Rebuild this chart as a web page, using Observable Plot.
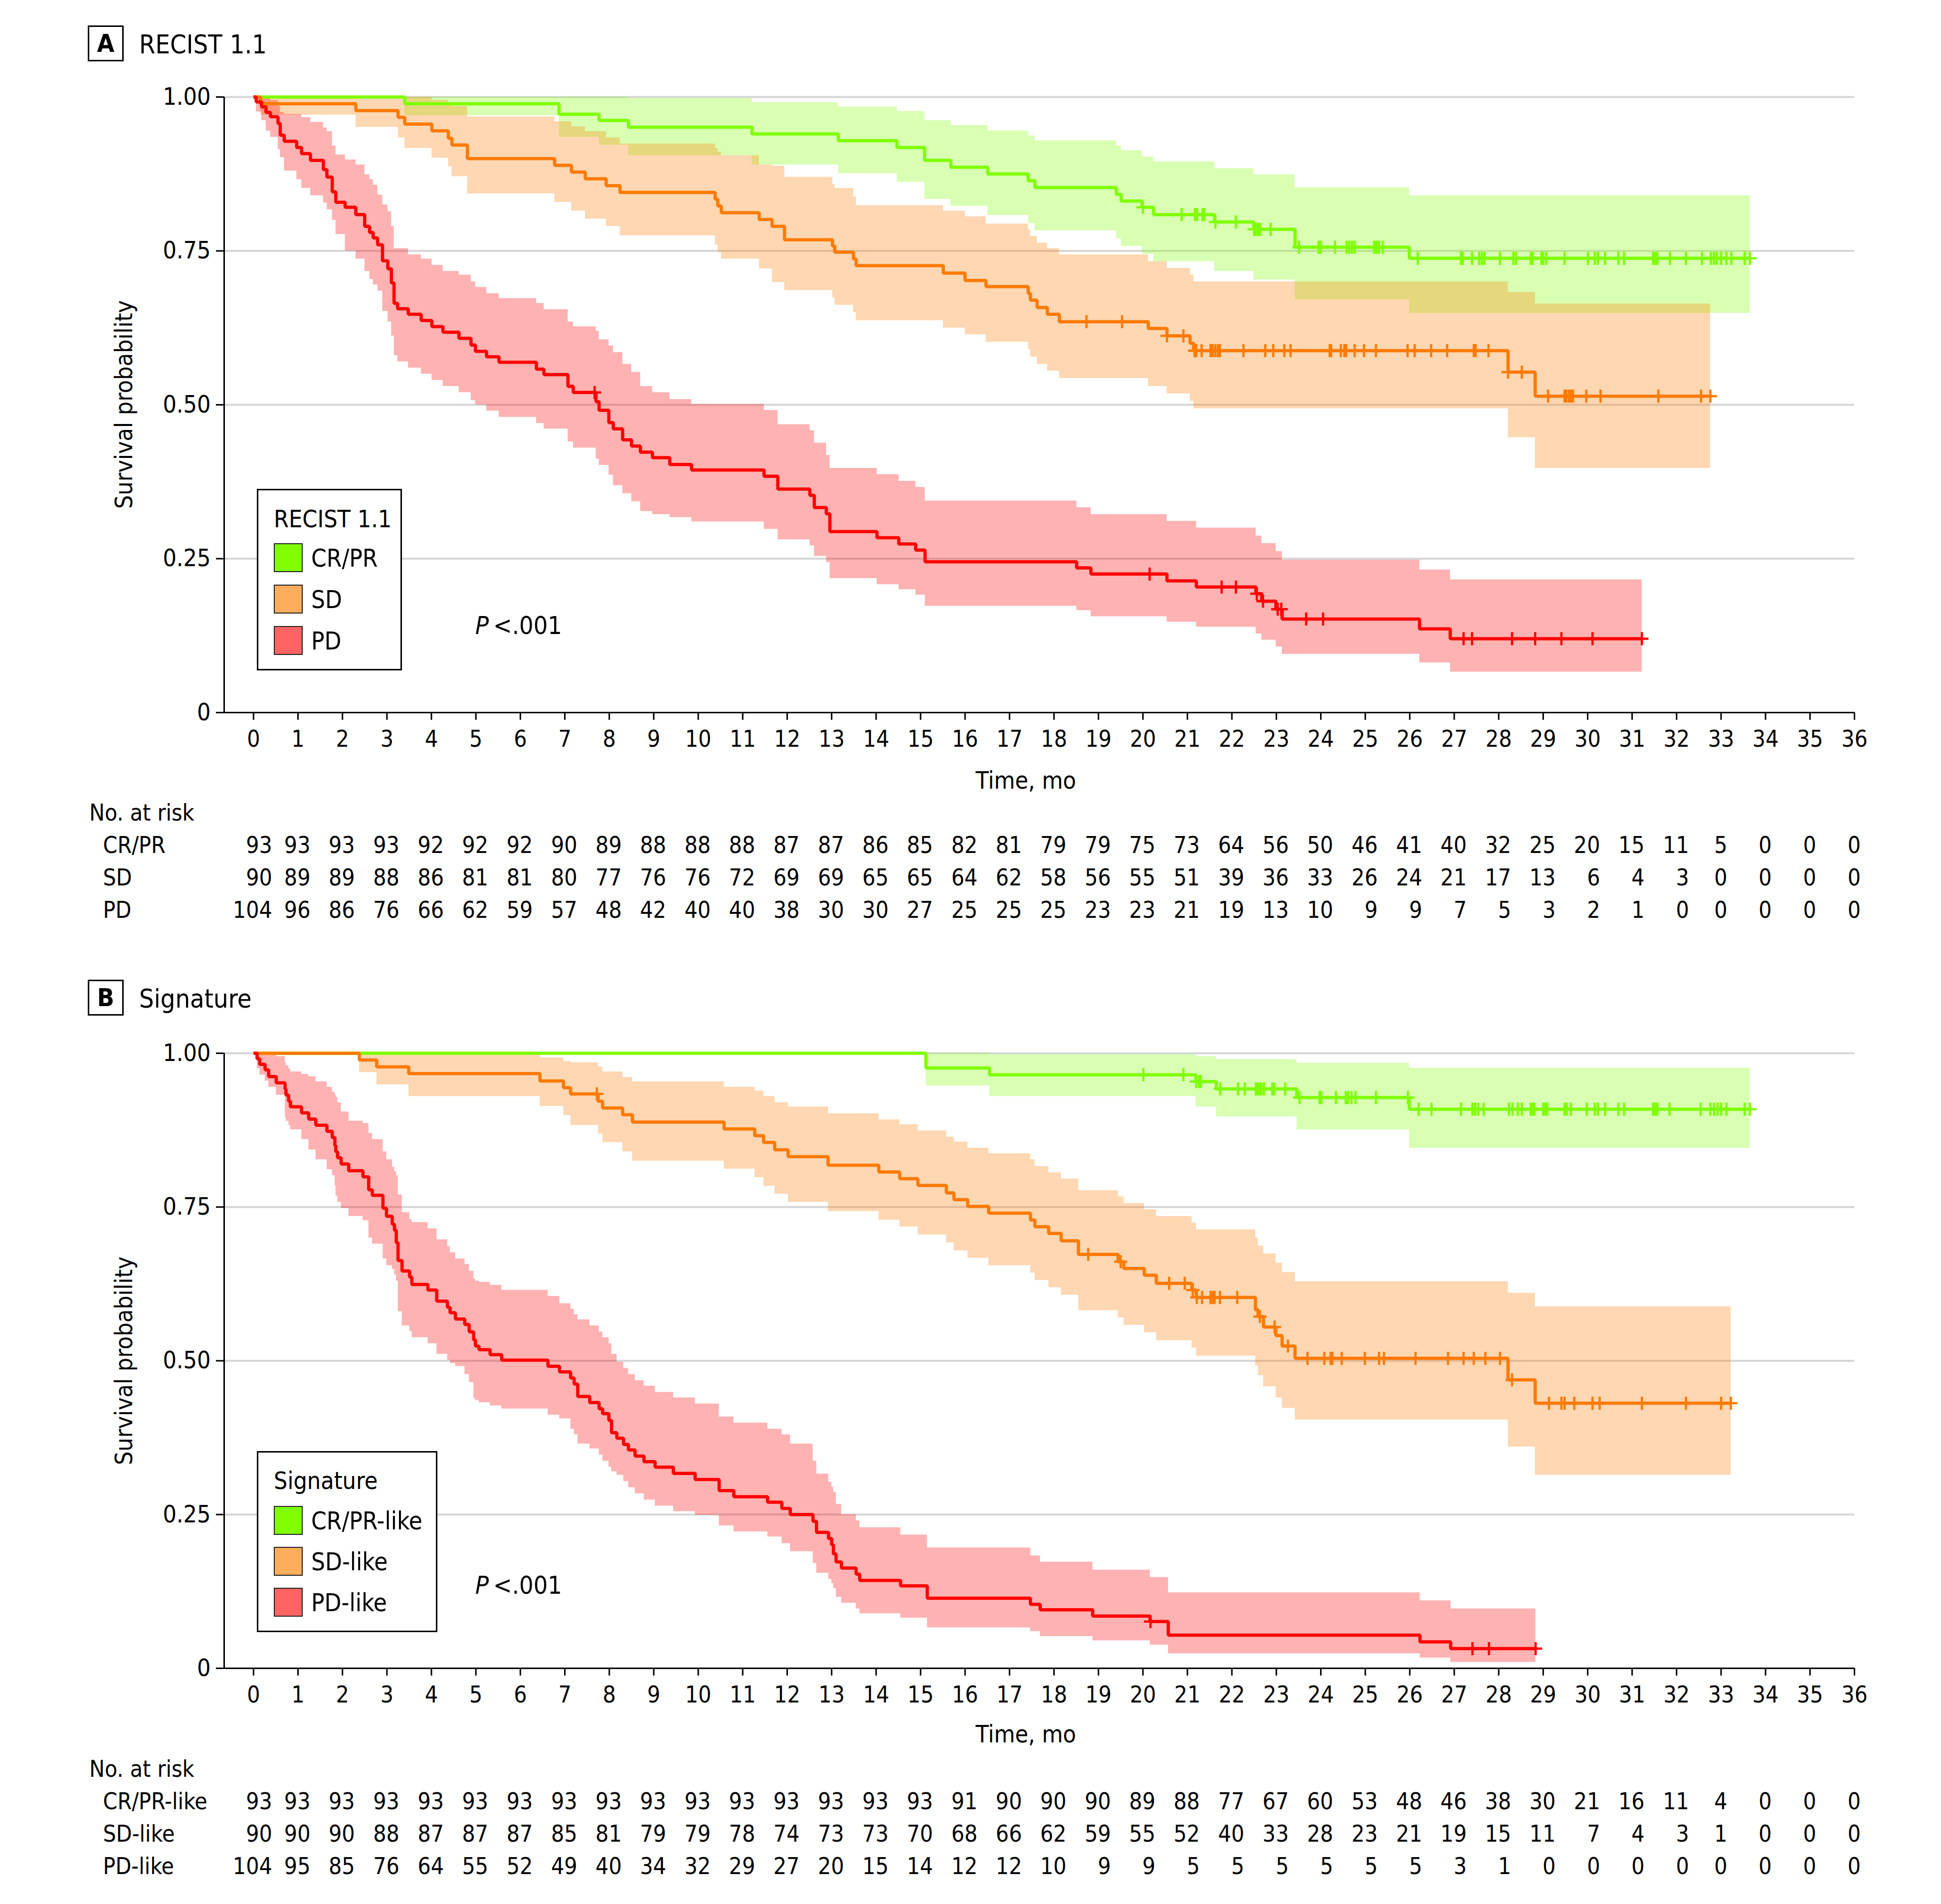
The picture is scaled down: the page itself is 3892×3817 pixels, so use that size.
<!DOCTYPE html>
<html>
<head>
<meta charset="utf-8">
<script src="https://cdn.jsdelivr.net/npm/d3@7"></script>
<script src="https://cdn.jsdelivr.net/npm/@observablehq/plot@0.6"></script>
<style>
  html,body{margin:0;padding:0;background:#fff;}
  #page{position:relative;width:3892px;height:3817px;overflow:hidden;background:#fff;
    font-family:"DejaVu Sans Condensed","DejaVu Sans",sans-serif;font-stretch:condensed;color:#000;}
  .t{position:absolute;white-space:nowrap;line-height:1;}
  .box{position:absolute;box-sizing:border-box;border:3px solid #000;background:#fff;}
  .sw{position:absolute;box-sizing:border-box;border:2.5px solid #222;}
  .svgwrap{position:absolute;left:0;}
</style>
</head>
<body>
<div id="page"></div>
<script>
// ---------------- DATA ----------------
const xTicks = [0,1,2,3,4,5,6,7,8,9,10,11,12,13,14,15,16,17,18,19,20,21,22,23,24,25,26,27,28,29,30,31,32,33,34,35,36];
const yTicks = [0, 0.25, 0.5, 0.75, 1];
const X_DOMAIN = [-0.66, 36];

const groupsA = ["CR/PR", "SD", "PD"];
const groupsB = ["CR/PR-like", "SD-like", "PD-like"];
const lineColors = ["#7FFF00", "#FF7A00", "#FF0000"];
const swatchColors = ["#80FF00", "#FDAD5B", "#FF6464"];

// Kaplan-Meier steps: [month, survival, lower CI, upper CI]
const kmA_CRPR = [
[0,1,1,1],[3.40,0.989,0.970,1],[6.87,0.972,0.935,1],[7.77,0.962,0.922,1],[8.43,0.951,0.905,0.998],
[11.21,0.940,0.890,0.991],[13.15,0.929,0.876,0.984],[14.47,0.918,0.862,0.977],[15.09,0.897,0.834,0.962],
[15.68,0.886,0.823,0.954],[16.51,0.875,0.808,0.945],[17.42,0.864,0.795,0.937],[17.57,0.853,0.783,0.929],
[19.40,0.842,0.770,0.921],[19.51,0.831,0.758,0.913],[19.98,0.821,0.745,0.903],[20.24,0.809,0.733,0.895],
[21.61,0.797,0.717,0.884],[22.49,0.785,0.703,0.874],[23.42,0.756,0.671,0.853],[25.99,0.738,0.649,0.840]];
const endA_CRPR = 33.65;
const censA_CRPR = [20.00,20.87,21.17,21.22,21.34,21.38,21.63,22.09,22.50,22.54,22.59,22.64,22.87,23.51,23.95,24.00,24.32,
24.58,24.64,24.70,24.76,25.20,25.25,25.31,25.39,26.18,27.15,27.19,27.40,27.56,27.62,27.68,28.03,28.33,28.39,28.72,28.76,
28.96,29.00,29.07,29.48,30.01,30.16,30.23,30.39,30.69,30.82,31.47,31.52,31.57,31.85,32.21,32.57,32.77,32.84,32.90,33.00,
33.12,33.23,33.53,33.65];

const kmA_SD = [
[0,1,1,1],[0.16,0.989,0.971,1],[2.30,0.978,0.951,1],[3.25,0.967,0.934,1],[3.40,0.956,0.917,1],
[4.01,0.945,0.901,0.995],[4.38,0.933,0.887,0.990],[4.46,0.922,0.871,0.985],[4.81,0.900,0.843,0.968],
[6.77,0.889,0.829,0.960],[7.15,0.878,0.815,0.952],[7.46,0.867,0.802,0.944],[7.93,0.856,0.790,0.934],
[8.24,0.845,0.775,0.924],[10.38,0.834,0.760,0.917],[10.44,0.823,0.748,0.911],[10.52,0.812,0.737,0.905],
[11.37,0.801,0.721,0.890],[11.66,0.790,0.699,0.888],[11.94,0.768,0.686,0.870],[13.02,0.758,0.674,0.858],
[13.07,0.748,0.662,0.852],[13.49,0.737,0.650,0.838],[13.55,0.726,0.637,0.824],[15.51,0.714,0.625,0.815],
[16.00,0.702,0.614,0.806],[16.47,0.692,0.602,0.794],[17.42,0.681,0.590,0.784],[17.47,0.670,0.578,0.774],
[17.62,0.658,0.566,0.763],[17.85,0.647,0.555,0.754],[18.12,0.635,0.543,0.744],[20.12,0.624,0.530,0.733],
[20.54,0.612,0.518,0.722],[21.06,0.600,0.506,0.711],[21.14,0.588,0.494,0.700],[28.21,0.553,0.447,0.683],
[28.82,0.514,0.397,0.664]];
const endA_SD = 32.76;
const censA_SD = [18.73,19.53,20.54,20.91,21.16,21.20,21.32,21.52,21.57,21.63,21.69,21.73,22.26,22.75,22.93,23.18,23.32,
24.20,24.23,24.45,24.53,24.57,24.76,24.97,25.24,25.95,26.11,26.48,26.84,27.44,27.48,27.77,28.21,28.52,29.11,29.48,29.52,
29.58,29.62,29.67,29.97,30.29,31.59,32.55,32.76];

const kmA_PD = [
[0,1,1,1],[0.06,0.992,0.976,1],[0.18,0.984,0.962,1],[0.28,0.975,0.945,1],[0.38,0.968,0.935,0.995],
[0.55,0.957,0.915,0.985],[0.60,0.938,0.902,0.975],[0.69,0.928,0.880,0.972],[0.97,0.918,0.866,0.972],
[1.08,0.908,0.852,0.967],[1.28,0.897,0.840,0.959],[1.57,0.882,0.828,0.950],[1.65,0.870,0.817,0.944],
[1.77,0.846,0.800,0.921],[1.85,0.829,0.777,0.906],[2.06,0.821,0.750,0.898],[2.30,0.809,0.737,0.890],
[2.50,0.790,0.717,0.874],[2.61,0.780,0.704,0.866],[2.69,0.771,0.695,0.857],[2.79,0.760,0.685,0.841],
[2.90,0.734,0.652,0.825],[3.02,0.721,0.635,0.814],[3.10,0.698,0.612,0.790],[3.16,0.665,0.580,0.754],
[3.24,0.656,0.570,0.754],[3.48,0.647,0.560,0.744],[3.77,0.637,0.550,0.737],[4.01,0.627,0.540,0.727],
[4.26,0.618,0.530,0.717],[4.62,0.608,0.520,0.711],[4.89,0.597,0.507,0.700],[4.99,0.587,0.500,0.691],
[5.24,0.578,0.490,0.681],[5.52,0.569,0.480,0.673],[6.36,0.558,0.470,0.665],[6.53,0.549,0.461,0.655],
[7.07,0.530,0.440,0.635],[7.19,0.520,0.430,0.627],[7.70,0.505,0.412,0.620],[7.77,0.491,0.402,0.606],
[7.99,0.471,0.386,0.596],[8.09,0.461,0.369,0.585],[8.30,0.443,0.356,0.566],[8.50,0.433,0.343,0.553],
[8.70,0.423,0.327,0.530],[8.97,0.414,0.322,0.520],[9.36,0.403,0.317,0.509],[9.85,0.394,0.310,0.501],
[11.48,0.384,0.298,0.491],[11.79,0.363,0.281,0.468],[12.51,0.353,0.271,0.458],[12.61,0.333,0.254,0.438],
[12.88,0.323,0.244,0.418],[12.96,0.294,0.218,0.397],[14.02,0.284,0.208,0.387],[14.51,0.274,0.200,0.376],
[14.89,0.264,0.191,0.366],[15.10,0.245,0.173,0.344],[18.51,0.235,0.166,0.333],[18.83,0.225,0.156,0.322],
[20.54,0.214,0.147,0.311],[21.20,0.204,0.139,0.300],[22.54,0.193,0.128,0.287],[22.67,0.181,0.118,0.275],
[22.99,0.168,0.107,0.262],[23.13,0.152,0.095,0.248],[26.22,0.136,0.081,0.232],[26.91,0.120,0.066,0.216]];
const endA_PD = 31.22;
const censA_PD = [7.67,20.15,21.77,22.09,22.56,22.70,23.03,23.11,23.67,24.05,27.21,27.40,28.30,28.82,29.41,30.11,31.22];

const kmB_CRPR = [
[0,1,1,1],[15.12,0.976,0.947,1],[16.55,0.965,0.930,0.998],[21.19,0.954,0.913,0.995],
[21.65,0.942,0.897,0.990],[23.46,0.928,0.876,0.984],[25.99,0.909,0.846,0.976]];
const endB_CRPR = 33.65;
const censB_CRPR = [20.01,20.91,21.20,21.26,21.30,21.74,22.14,22.29,22.54,22.58,22.62,22.66,22.72,22.91,22.95,23.20,
23.52,23.97,24.01,24.34,24.56,24.61,24.69,24.78,25.24,25.96,26.20,26.49,27.15,27.41,27.47,27.54,27.66,28.23,28.31,28.43,
28.52,28.72,28.76,28.80,29.00,29.05,29.09,29.48,29.53,29.62,29.98,30.16,30.23,30.39,30.69,30.82,31.47,31.52,31.57,31.84,
32.54,32.76,32.84,32.92,33.00,33.12,33.53,33.65];

const kmB_SD = [
[0,1,1,1],[2.38,0.989,0.969,1],[2.77,0.978,0.949,1],[3.49,0.967,0.930,1],[6.44,0.955,0.914,0.993],
[6.97,0.944,0.899,0.987],[7.13,0.934,0.883,0.985],[7.75,0.922,0.869,0.978],[7.85,0.911,0.855,0.970],
[8.30,0.900,0.840,0.961],[8.52,0.888,0.825,0.954],[10.58,0.877,0.812,0.945],[11.27,0.866,0.798,0.939],
[11.47,0.855,0.784,0.930],[11.72,0.843,0.771,0.920],[12.02,0.832,0.758,0.913],[12.92,0.818,0.743,0.902],
[14.06,0.807,0.729,0.892],[14.53,0.796,0.718,0.884],[14.94,0.785,0.705,0.874],[15.58,0.773,0.692,0.864],
[15.75,0.762,0.679,0.856],[16.06,0.751,0.667,0.846],[16.53,0.740,0.655,0.837],[17.47,0.729,0.643,0.827],
[17.57,0.718,0.631,0.816],[17.88,0.707,0.619,0.806],[18.16,0.695,0.607,0.796],[18.55,0.673,0.582,0.777],
[19.44,0.661,0.570,0.767],[19.57,0.650,0.558,0.756],[20.03,0.639,0.546,0.746],[20.30,0.626,0.533,0.735],
[21.10,0.615,0.521,0.724],[21.20,0.603,0.508,0.713],[22.53,0.583,0.492,0.700],[22.59,0.572,0.476,0.687],
[22.71,0.555,0.458,0.674],[22.99,0.541,0.440,0.659],[23.13,0.524,0.423,0.644],[23.42,0.504,0.404,0.629],
[28.21,0.469,0.360,0.610],[28.82,0.431,0.314,0.588]];
const endB_SD = 33.22;
const censB_SD = [7.72,18.77,19.50,20.59,20.94,21.12,21.21,21.33,21.52,21.57,21.61,21.73,22.12,22.63,22.96,23.26,23.70,
24.08,24.22,24.26,24.47,24.99,25.31,25.42,26.13,26.86,27.21,27.44,27.70,28.03,28.30,29.13,29.41,29.48,29.70,30.11,30.27,
31.22,32.21,33.00,33.22];

const kmB_PD = [
[0,1,1,1],[0.08,0.991,0.975,1],[0.14,0.982,0.965,1],[0.26,0.973,0.955,1],[0.34,0.962,0.945,0.998],
[0.51,0.952,0.932,0.995],[0.71,0.942,0.896,0.985],[0.73,0.932,0.890,0.980],[0.79,0.922,0.883,0.975],
[0.83,0.913,0.876,0.970],[1.08,0.903,0.860,0.966],[1.24,0.893,0.843,0.962],[1.40,0.883,0.827,0.954],
[1.65,0.873,0.811,0.945],[1.77,0.863,0.801,0.937],[1.83,0.850,0.785,0.933],[1.85,0.840,0.768,0.929],
[1.89,0.830,0.758,0.920],[1.97,0.820,0.748,0.905],[2.14,0.809,0.735,0.890],[2.46,0.799,0.728,0.886],
[2.59,0.778,0.700,0.870],[2.67,0.769,0.690,0.860],[2.91,0.748,0.666,0.840],[2.99,0.735,0.655,0.827],
[3.12,0.722,0.649,0.815],[3.17,0.712,0.640,0.808],[3.21,0.692,0.630,0.801],[3.25,0.663,0.580,0.770],
[3.34,0.646,0.557,0.741],[3.51,0.636,0.548,0.730],[3.56,0.624,0.538,0.725],[3.92,0.615,0.528,0.715],
[4.12,0.597,0.511,0.697],[4.36,0.587,0.501,0.686],[4.42,0.578,0.496,0.676],[4.54,0.568,0.491,0.666],
[4.75,0.559,0.478,0.657],[4.85,0.547,0.465,0.646],[4.95,0.534,0.439,0.633],[4.99,0.524,0.436,0.630],
[5.07,0.518,0.432,0.628],[5.32,0.510,0.427,0.623],[5.58,0.501,0.422,0.615],[6.62,0.491,0.412,0.605],
[6.88,0.482,0.406,0.593],[7.13,0.472,0.389,0.584],[7.21,0.462,0.380,0.575],[7.29,0.442,0.365,0.567],
[7.56,0.432,0.357,0.557],[7.77,0.422,0.347,0.547],[7.85,0.414,0.337,0.538],[7.99,0.403,0.327,0.528],
[8.05,0.383,0.320,0.511],[8.17,0.374,0.314,0.498],[8.32,0.364,0.304,0.488],[8.43,0.355,0.294,0.478],
[8.58,0.345,0.284,0.468],[8.78,0.336,0.274,0.459],[9.03,0.327,0.264,0.449],[9.44,0.317,0.255,0.440],
[9.93,0.307,0.249,0.430],[10.47,0.289,0.232,0.409],[10.80,0.279,0.222,0.399],[11.56,0.270,0.214,0.389],
[11.88,0.260,0.203,0.380],[12.07,0.250,0.190,0.365],[12.58,0.239,0.171,0.337],[12.66,0.221,0.155,0.316],
[12.93,0.211,0.145,0.303],[13.00,0.201,0.138,0.295],[13.04,0.186,0.130,0.286],[13.10,0.173,0.116,0.267],
[13.22,0.163,0.106,0.250],[13.55,0.153,0.097,0.240],[13.63,0.143,0.089,0.229],[14.55,0.134,0.082,0.217],
[15.15,0.114,0.066,0.196],[17.47,0.104,0.060,0.183],[17.69,0.095,0.052,0.173],[18.87,0.085,0.045,0.160],
[20.16,0.076,0.038,0.148],[20.57,0.054,0.024,0.123],[26.23,0.043,0.017,0.110],[26.92,0.032,0.010,0.097]];
const endB_PD = 28.83;
const censB_PD = [20.17,27.41,27.78,28.83];

// Numbers at risk (months 0..36)
const riskA_CRPR = [93,93,93,93,92,92,92,90,89,88,88,88,87,87,86,85,82,81,79,79,75,73,64,56,50,46,41,40,32,25,20,15,11,5,0,0,0];
const riskA_SD   = [90,89,89,88,86,81,81,80,77,76,76,72,69,69,65,65,64,62,58,56,55,51,39,36,33,26,24,21,17,13,6,4,3,0,0,0,0];
const riskA_PD   = [104,96,86,76,66,62,59,57,48,42,40,40,38,30,30,27,25,25,25,23,23,21,19,13,10,9,9,7,5,3,2,1,0,0,0,0,0];
const riskB_CRPR = [93,93,93,93,93,93,93,93,93,93,93,93,93,93,93,93,91,90,90,90,89,88,77,67,60,53,48,46,38,30,21,16,11,4,0,0,0];
const riskB_SD   = [90,90,90,88,87,87,87,85,81,79,79,78,74,73,73,70,68,66,62,59,55,52,40,33,28,23,21,19,15,11,7,4,3,1,0,0,0];
const riskB_PD   = [104,95,85,76,64,55,52,49,40,34,32,29,27,20,15,14,12,12,10,9,9,5,5,5,5,5,5,3,1,0,0,0,0,0,0,0,0];

// ---------------- LAYOUT ----------------
const W = 3892, ML = 449, MR = 174;
const FONT = '"DejaVu Sans Condensed","DejaVu Sans",sans-serif';
const page = document.getElementById("page");

const panels = [
  {letter:"A", title:"RECIST 1.1", legendTitle:"RECIST 1.1", groups:groupsA,
   km:[kmA_CRPR,kmA_SD,kmA_PD], ends:[endA_CRPR,endA_SD,endA_PD], cens:[censA_CRPR,censA_SD,censA_PD],
   risk:[riskA_CRPR,riskA_SD,riskA_PD],
   L:{boxTop:51, titleBase:107, svgTop:150, plotTop:194, plotBottom:1428, svgBottom:1610, xTitleY:1564, yTitleY:811,
      riskTitleY:1628, tableTop:1660, legLeft:515, legTop:980, legW:291, legH:364, legTitleBase:1057,
      swTops:[1089,1172,1255], pBase:1271}},
  {letter:"B", title:"Signature", legendTitle:"Signature", groups:groupsB,
   km:[kmB_CRPR,kmB_SD,kmB_PD], ends:[endB_CRPR,endB_SD,endB_PD], cens:[censB_CRPR,censB_SD,censB_PD],
   risk:[riskB_CRPR,riskB_SD,riskB_PD],
   L:{boxTop:1964, titleBase:2020, svgTop:2067, plotTop:2111, plotBottom:3344, svgBottom:3530, xTitleY:3476, yTitleY:2728,
      riskTitleY:3545, tableTop:3577, legLeft:515, legTop:2909, legW:362, legH:363, legTitleBase:2985,
      swTops:[3019,3101,3183], pBase:3195}}
];

function survAt(rows, t) { let v = rows[0].s; for (const r of rows) if (r.t <= t + 1e-9) v = r.s; return v; }
function addText(str, left, baseline, size, extra = "") {
  const d = document.createElement("div");
  d.className = "t";
  d.style.cssText = `left:${left}px;top:${baseline - 0.846 * size}px;font-size:${size}px;${extra}`;
  d.innerHTML = str;
  page.append(d);
  return d;
}
function addCentered(str, cx, cy, size, rotate = 0) {
  const d = document.createElement("div");
  d.className = "t";
  d.style.cssText = `left:${cx}px;top:${cy}px;font-size:${size}px;transform:translate(-50%,-50%) rotate(${rotate}deg);`;
  d.textContent = str;
  page.append(d);
}
function place(svg, top) {
  const d = document.createElement("div");
  d.className = "svgwrap";
  d.style.top = top + "px";
  d.append(svg);
  page.append(d);
}
const yFmt = d => d === 0 ? "0" : d.toFixed(2);
const plotStyle = {fontFamily: FONT, fontSize: "46px", background: "transparent", overflow: "visible", fontStretch: "condensed"};

for (const P of panels) {
  const L = P.L;
  // header
  const box = document.createElement("div");
  box.className = "box";
  box.style.cssText = `left:176px;top:${L.boxTop}px;width:72px;height:72px;display:flex;align-items:center;justify-content:center;font-weight:bold;font-size:50px;`;
  box.textContent = P.letter;
  page.append(box);
  addText(P.title, 279, L.titleBase, 52);

  // curves
  const curves = P.km.map((k, i) => {
    const rows = k.map(([t, s, lo, hi]) => ({t, s, lo, hi}));
    rows.push({...rows[rows.length - 1], t: P.ends[i]});
    const cens = P.cens[i].map(t => ({t, s: survAt(rows, t)}));
    return {rows, cens, color: lineColors[i]};
  });
  const marks = [
    Plot.ruleY([0.25, 0.5, 0.75, 1], {stroke: "#d6d6d6", strokeWidth: 4}),
    ...curves.map(c => Plot.areaY(c.rows, {x: "t", y1: "lo", y2: "hi", curve: "step-after", fill: c.color, fillOpacity: 0.3})),
    ...curves.map(c => Plot.line(c.rows, {x: "t", y: "s", curve: "step-after", stroke: c.color, strokeWidth: 6.5, strokeLinejoin: "miter", strokeLinecap: "butt"})),
    ...curves.map(c => Plot.dot(c.cens, {x: "t", y: "s", symbol: "plus", r: 8.5, stroke: c.color, strokeWidth: 4.5, fill: "none"})),
    Plot.ruleY([0], {stroke: "#000", strokeWidth: 3}),
    Plot.ruleX([X_DOMAIN[0]], {stroke: "#000", strokeWidth: 3}),
    Plot.axisX({ticks: xTicks, tickSize: 15, tickPadding: 21, tickFormat: d => String(d), label: null, fontSize: 46, strokeWidth: 3}),
    Plot.axisY({ticks: yTicks, tickSize: 16, tickPadding: 11, tickFormat: yFmt, label: null, fontSize: 48, strokeWidth: 3})
  ];
  const chart = Plot.plot({
    width: W, height: L.svgBottom - L.svgTop,
    marginLeft: ML, marginRight: MR, marginTop: L.plotTop - L.svgTop, marginBottom: L.svgBottom - L.plotBottom,
    x: {domain: X_DOMAIN}, y: {domain: [0, 1]},
    style: plotStyle, marks
  });
  place(chart, L.svgTop);

  // axis titles
  addCentered("Time, mo", 2057, L.xTitleY, 48);
  addCentered("Survival probability", 248, L.yTitleY, 48, -90);

  // legend
  const leg = document.createElement("div");
  leg.className = "box";
  leg.style.cssText = `left:${L.legLeft}px;top:${L.legTop}px;width:${L.legW}px;height:${L.legH}px;`;
  page.append(leg);
  addText(P.legendTitle, 549, L.legTitleBase, 48);
  P.groups.forEach((g, i) => {
    const sw = document.createElement("div");
    sw.className = "sw";
    sw.style.cssText = `left:549px;top:${L.swTops[i]}px;width:58px;height:58px;background:${swatchColors[i]};`;
    page.append(sw);
    addText(g, 624, L.swTops[i] + 29 + 18, 49);
  });

  // P value
  addText('<i>P</i>&#8201;&lt;.001', 953, L.pBase, 50);

  // at-risk table
  addText("No. at risk", 179, L.riskTitleY + 17, 46);
  const pxPerMonth = (W - ML - MR) / (X_DOMAIN[1] - X_DOMAIN[0]);
  const DIGIT = 25;
  const colMax = xTicks.map((_, j) => d3.max(P.risk, r => String(r[j]).length));
  const tbl = P.groups.flatMap((g, i) => P.risk[i].map((n, j) => ({g, j, m: xTicks[j], n: String(n)})));
  const table = Plot.plot({
    width: W, height: 200, marginLeft: ML, marginRight: MR, marginTop: 0, marginBottom: 0,
    x: {domain: X_DOMAIN, axis: null},
    y: {type: "point", domain: P.groups, range: [35, 165], padding: 0, axis: null},
    style: plotStyle,
    marks: [
      Plot.text(tbl, {x: d => d.m + colMax[d.j] * DIGIT / 2 / pxPerMonth, y: "g", text: "n", textAnchor: "end", fontSize: 46}),
      Plot.text(P.groups, {y: d => d, text: d => d, frameAnchor: "left", textAnchor: "start", dx: -(ML - 206), fontSize: 46})
    ]
  });
  place(table, L.tableTop);
}
</script>
</body>
</html>
